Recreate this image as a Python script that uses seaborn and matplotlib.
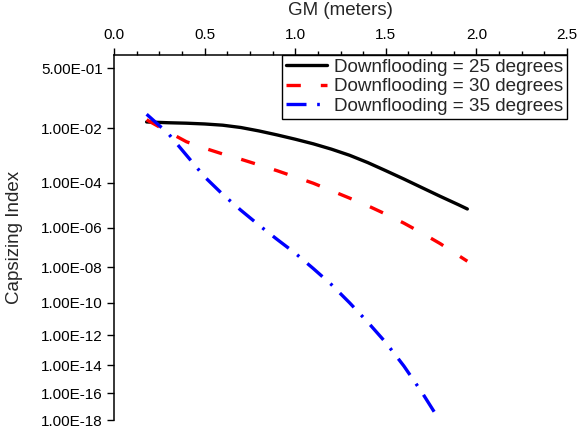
import math
from statistics import NormalDist

import numpy as np
import pandas as pd
import matplotlib
matplotlib.use("Agg")
import matplotlib.pyplot as plt
from matplotlib.ticker import FixedLocator, FixedFormatter, MultipleLocator, NullLocator
import seaborn as sns

# ---------------- data ----------------
gm_25 = [0.18, 0.3, 0.4, 0.5, 0.6, 0.7, 0.8, 0.9, 1.0, 1.1, 1.2, 1.3, 1.4, 1.5, 1.6, 1.7, 1.8, 1.9, 1.95]
ci_25 = [1.60e-2, 1.51e-2, 1.46e-2, 1.38e-2, 1.26e-2, 1.06e-2, 8.18e-3, 6.03e-3, 4.31e-3, 2.98e-3,
         1.93e-3, 1.16e-3, 6.21e-4, 3.02e-4, 1.41e-4, 6.24e-5, 2.70e-5, 1.17e-5, 7.51e-6]

gm_30 = [0.18, 0.3, 0.4, 0.5, 0.6, 0.7, 0.8, 0.9, 1.0, 1.1, 1.2, 1.3, 1.4, 1.5, 1.6, 1.7, 1.8, 1.9, 1.95]
ci_30 = [1.87e-2, 7.55e-3, 3.52e-3, 2.09e-3, 1.29e-3, 8.28e-4, 5.05e-4, 3.02e-4, 1.71e-4, 9.52e-5,
         4.69e-5, 2.26e-5, 1.05e-5, 4.38e-6, 1.68e-6, 5.61e-7, 1.71e-7, 4.29e-8, 2.12e-8]

gm_35 = [0.18, 0.3, 0.4, 0.5, 0.6, 0.7, 0.8, 0.9, 1.0, 1.1, 1.2, 1.3, 1.4, 1.5, 1.6, 1.7, 1.78]
ci_35 = [2.78e-2, 6.64e-3, 1.16e-3, 1.73e-4, 3.26e-5, 6.61e-6, 1.35e-6, 2.77e-7, 5.58e-8, 8.59e-9,
         1.12e-9, 1.0e-10, 6.75e-12, 3.33e-13, 8.79e-15, 1.16e-16, 2.21e-18]

series_labels = ["Downflooding = 25 degrees", "Downflooding = 30 degrees", "Downflooding = 35 degrees"]

y_tick_values = [5e-1, 1e-2, 1e-4, 1e-6, 1e-8, 1e-10, 1e-12, 1e-14, 1e-16, 1e-18]
y_tick_labels = ["5.00E-01", "1.00E-02", "1.00E-04", "1.00E-06", "1.00E-08",
                 "1.00E-10", "1.00E-12", "1.00E-14", "1.00E-16", "1.00E-18"]
x_tick_values = [0.0, 0.5, 1.0, 1.5, 2.0, 2.5]
x_tick_labels = ["0.0", "0.5", "1.0", "1.5", "2.0", "2.5"]

# ---------------- probability (percent) scale ----------------
_nd = NormalDist()


def _ppf_scalar(p):
    if not np.isfinite(p):
        return np.nan
    p = min(max(p, 1e-300), 1 - 1e-16)
    return _nd.inv_cdf(p)


_ppf_vec = np.vectorize(_ppf_scalar, otypes=[float])
_erfc_vec = np.vectorize(math.erfc, otypes=[float])


def prob_forward(v):
    v = np.asarray(v, dtype=float)
    return _ppf_vec(v / 100.0)


def prob_inverse(x):
    x = np.asarray(x, dtype=float)
    return 100.0 * 0.5 * _erfc_vec(-x / math.sqrt(2.0))


# ---------------- figure ----------------
sns.set_style("ticks")
plt.rcParams["font.family"] = ["Liberation Sans", "DejaVu Sans"]

fig = plt.figure(figsize=(5.77, 4.32), dpi=100)
ax = fig.add_axes([114 / 577, 1 - 420 / 432, (567 - 114) / 577, (420 - 55) / 432])

lw = 2.4
styles = [
    dict(color="black", linestyle="-"),
    dict(color="#FF0000", linestyle=(0, (4.3, 6.0))),
    dict(color="#0000FF", linestyle=(0, (6.0, 3.2, 0.8, 3.2))),
]
data = [(gm_25, ci_25), (gm_30, ci_30), (gm_35, ci_35)]

ax.set_yscale("function", functions=(prob_forward, prob_inverse))

for (gx, cy), lab, st in zip(data, series_labels, styles):
    df = pd.DataFrame({"GM": gx, "CI": cy})
    sns.lineplot(data=df, x="GM", y="CI", ax=ax, color=st["color"], linewidth=lw,
                 linestyle=st["linestyle"], label=lab, sort=False, estimator=None)

ax.set_xlim(0, 2.5)
ax.set_ylim(1e-18, 1.0)

# axes / spines
for s in ["right", "bottom"]:
    ax.spines[s].set_visible(False)
for s in ["top", "left"]:
    ax.spines[s].set_color("black")
    ax.spines[s].set_linewidth(1.1)

ax.xaxis.set_ticks_position("top")
ax.xaxis.set_label_position("top")
ax.xaxis.set_major_locator(FixedLocator(x_tick_values))
ax.xaxis.set_major_formatter(FixedFormatter(x_tick_labels))
ax.xaxis.set_minor_locator(MultipleLocator(0.125))
ax.tick_params(axis="x", which="major", direction="out", length=5, width=1.0,
               labelsize=11, pad=4.5, colors="black")
ax.tick_params(axis="x", which="minor", direction="out", length=3, width=1.0, colors="black")

ax.yaxis.set_major_locator(FixedLocator(y_tick_values))
ax.yaxis.set_major_formatter(FixedFormatter(y_tick_labels))
ax.yaxis.set_minor_locator(NullLocator())
ax.tick_params(axis="y", which="major", direction="out", length=5, width=1.0,
               labelsize=11, pad=3, colors="black")

ax.set_xlabel("GM (meters)", fontsize=13.5, labelpad=9)
ax.set_ylabel("Capsizing Index", fontsize=13.5, labelpad=13)

leg = ax.legend(loc="upper right", borderaxespad=0, fontsize=13.6, handlelength=2.2,
                handletextpad=0.35, labelspacing=0.12, borderpad=0.2,
                fancybox=False, framealpha=1, edgecolor="black")
leg.get_frame().set_linewidth(1.0)

fig.savefig("out.png", dpi=100)
